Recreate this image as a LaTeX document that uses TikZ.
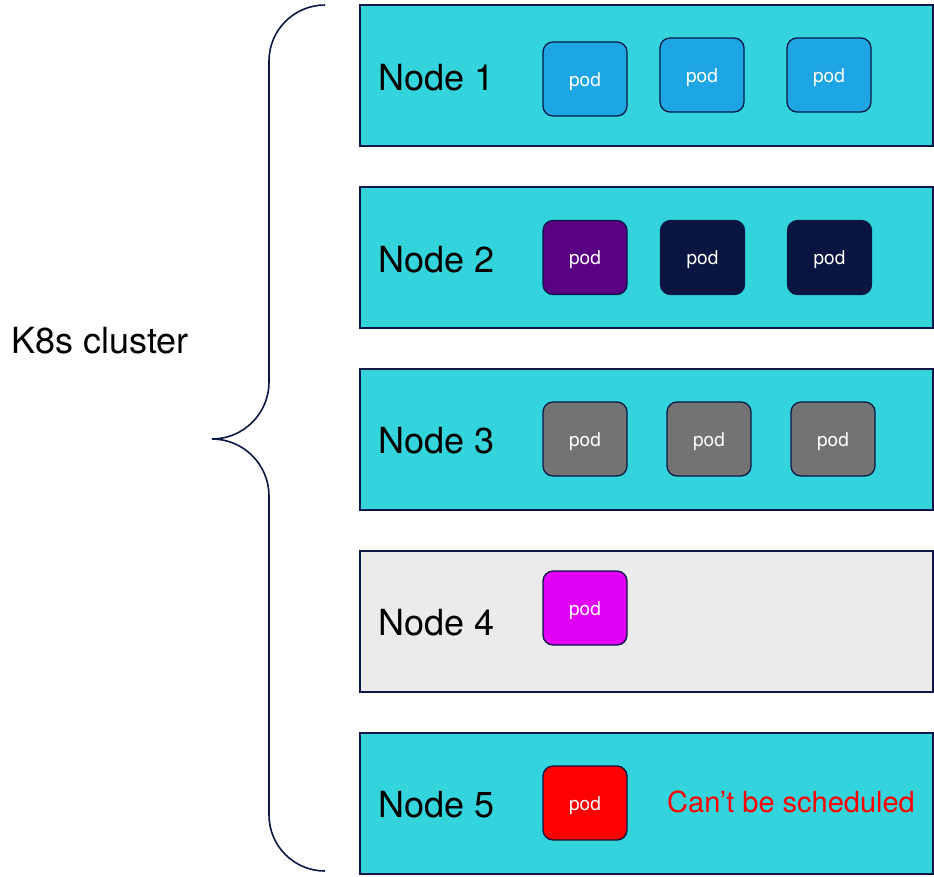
\documentclass[tikz,border=0pt]{standalone}
\usepackage{fontspec}
\setmainfont{TeX Gyre Heros}
\definecolor{edge}{HTML}{0A1845}
\definecolor{nodecyan}{HTML}{33D4DC}
\definecolor{nodegray}{HTML}{EBEBEB}
\definecolor{podblue}{HTML}{1EA5E3}
\definecolor{podpurple}{HTML}{5A0082}
\definecolor{podnavy}{HTML}{0A1440}
\definecolor{podgray}{HTML}{737373}
\definecolor{podmagenta}{HTML}{E100F5}
\definecolor{podred}{HTML}{FF0000}
\tikzset{
  host/.style={draw=edge, line width=1.5pt, fill=nodecyan, minimum width=573pt, minimum height=141pt, inner sep=0pt},
  hostlabel/.style={anchor=west, inner sep=0pt, font=\fontsize{36}{40}\selectfont},
  pod/.style={draw=edge, line width=1.3pt, rounded corners=10pt, minimum width=84pt, minimum height=74pt, inner sep=0pt, text=white, font=\fontsize{19}{22}\selectfont},
  podtext/.style={inner sep=0pt, anchor=base, text=white, font=\fontsize{19}{22}\selectfont},
}
\begin{document}
\begin{tikzpicture}[x=1pt,y=1pt]
\useasboundingbox (0,0) rectangle (934,-876);

% worker nodes
\node[host] (n1) at (646.5,-75.5) {};
\node[host] (n2) at (646.5,-257.5) {};
\node[host] (n3) at (646.5,-439.5) {};
\node[host, fill=nodegray] (n4) at (646.5,-621.5) {};
\node[host] (n5) at (646.5,-803.5) {};

\node[hostlabel] (l1) at (378,-78) {Node 1};
\node[hostlabel] (l2) at (378,-260) {Node 2};
\node[hostlabel] (l3) at (378,-441) {Node 3};
\node[hostlabel] (l4) at (378,-623) {Node 4};
\node[hostlabel] (l5) at (378,-805) {Node 5};

% pods
\node[pod, fill=podblue] (p11) at (585,-79) {};
\node[pod, fill=podblue] (p12) at (702,-75) {};
\node[pod, fill=podblue] (p13) at (829,-75) {};

\node[pod, fill=podpurple] (p21) at (585,-257.5) {};
\node[pod, fill=podnavy] (p22) at (702.5,-257.5) {};
\node[pod, fill=podnavy] (p23) at (829.5,-257.5) {};

\node[pod, fill=podgray] (p31) at (585,-439) {};
\node[pod, fill=podgray] (p32) at (709,-439) {};
\node[pod, fill=podgray] (p33) at (833,-439) {};

\node[pod, fill=podmagenta] (p41) at (585,-608) {};

\node[pod, fill=podred] (p51) at (585,-803) {};

% pod captions, set on a common baseline inside each pod
\foreach \p in {p11,p12,p13,p21,p22,p23,p31,p32,p33,p41,p51}
  \node[podtext] at ([yshift=-7pt]\p.center) {pod};

\node[anchor=west, inner sep=0pt, text=podred, font=\fontsize{29}{32}\selectfont] (msg) at (667,-802) {Can’t be scheduled};

% cluster brace
\draw[edge, line width=1.6pt]
  (325,-5) arc[start angle=90, end angle=180, radius=56]
  -- (269,-382) arc[start angle=0, end angle=-90, radius=57]
  coordinate (tip)
  arc[start angle=90, end angle=0, radius=57]
  -- (269,-815) arc[start angle=180, end angle=270, radius=56];
\node[inner sep=0pt, font=\fontsize{36}{40}\selectfont] (cl) at (100,-341) {K8s cluster};
\end{tikzpicture}
\end{document}
